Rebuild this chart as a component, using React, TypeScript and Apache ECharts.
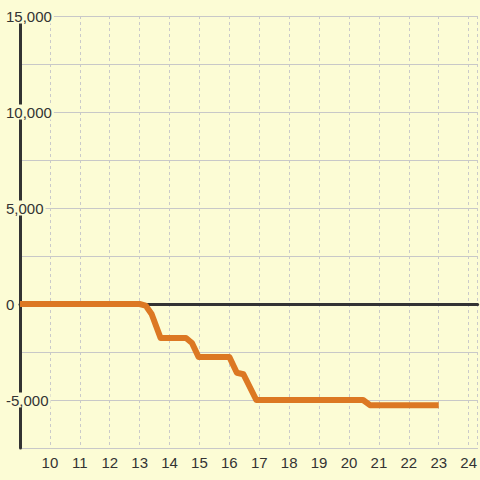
import React, { useEffect, useRef } from "react";
import * as echarts from "echarts";

const xValues = [9, 13, 13.2, 13.4, 13.55, 13.7, 14.55, 14.75, 14.97, 16.0, 16.25, 16.47, 16.9, 20.47, 20.7, 23];
const yValues = [0, 0, -80, -520, -1150, -1770, -1770, -2030, -2760, -2760, -3580, -3660, -5000, -5000, -5270, -5270];

const BG = "#fcfcd5";
const X_MIN = 9;
const X_MAX = 24.3;
const FONT = "'Liberation Sans', Arial, sans-serif";

export default function App() {
  const ref = useRef<HTMLDivElement>(null);
  useEffect(() => {
    if (!ref.current) return;
    const chart = echarts.init(ref.current, null, { renderer: "svg" });
    chart.setOption({
      animation: false,
      backgroundColor: BG,
      textStyle: { fontFamily: FONT },
      grid: { left: 20, right: 0, top: 16, bottom: 32, containLabel: false },
      xAxis: [
        {
          type: "value",
          min: X_MIN,
          max: X_MAX,
          interval: 1,
          axisLine: { show: true, onZero: false, lineStyle: { color: "#c8c8c8", width: 1 } },
          axisTick: { show: false },
          splitLine: { show: true, lineStyle: { color: "#cacaca", type: [3, 3], width: 1 } },
          axisLabel: {
            color: "#333333",
            fontSize: 15,
            fontFamily: FONT,
            margin: 7,
            showMinLabel: false,
            formatter: (v: number) => (v === 9 ? "" : String(v)),
          },
        },
        {
          type: "value",
          min: X_MIN,
          max: X_MAX,
          interval: 1,
          position: "bottom",
          axisLine: { show: true, onZero: true, lineStyle: { color: "#333333", width: 3 } },
          axisTick: { show: false },
          splitLine: { show: false },
          axisLabel: { show: false },
          z: 4,
        },
      ],
      yAxis: {
        type: "value",
        min: -7500,
        max: 15000,
        interval: 2500,
        axisLine: { show: true, onZero: false, lineStyle: { color: "#333333", width: 3 } },
        axisTick: { show: false },
        splitLine: { show: true, lineStyle: { color: "#c8c8c8", width: 1 } },
        axisLabel: {
          color: "#333333",
          fontSize: 15,
          fontFamily: FONT,
          align: "left",
          margin: 14,
          backgroundColor: BG,
          padding: [0, 2, 0, 0],
          formatter: (v: number) => (v % 5000 === 0 ? v.toLocaleString("en-US") : ""),
        },
        z: 3,
      },
      series: [
        {
          type: "line",
          xAxisIndex: 0,
          data: xValues.map((x, i) => [x, yValues[i]]),
          symbol: "none",
          lineStyle: { color: "#dc7823", width: 6, join: "round" },
          z: 5,
        },
      ],
    });
    return () => chart.dispose();
  }, []);
  return (
    <div
      ref={ref}
      style={{ position: "fixed", left: 0, top: 0, width: 480, height: 480 }}
    />
  );
}
